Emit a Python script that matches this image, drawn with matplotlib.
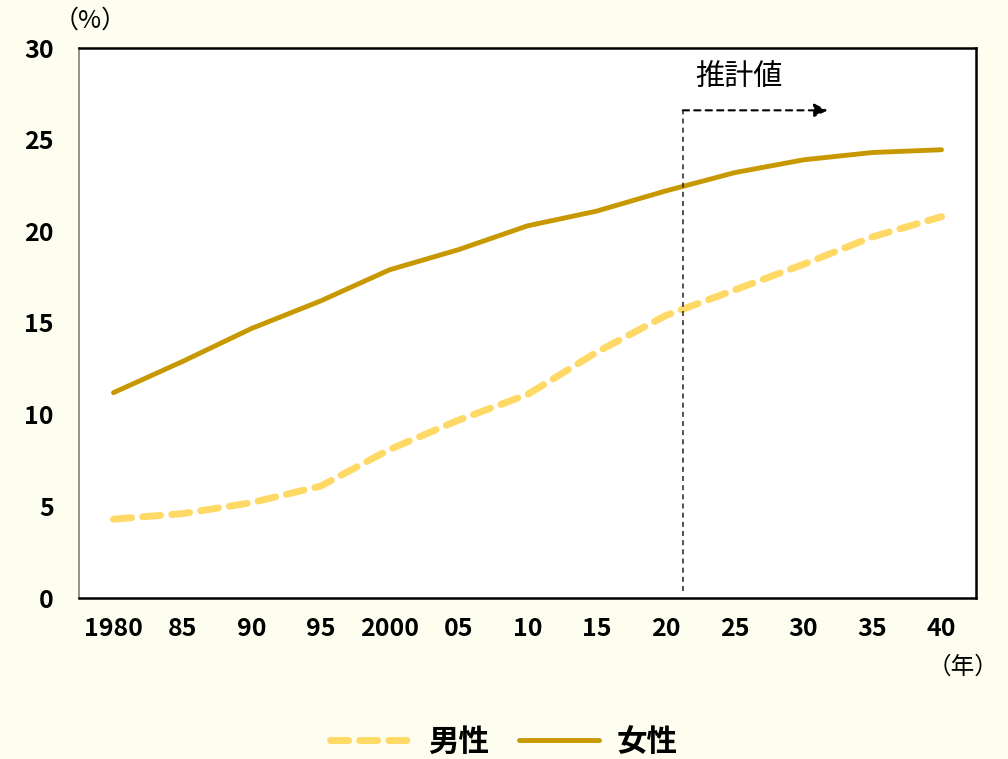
import matplotlib
matplotlib.use("Agg")
import matplotlib.pyplot as plt

plt.rcParams['font.family'] = ['Noto Sans CJK JP', 'DejaVu Sans']

# Data
years = ["1980", "85", "90", "95", "2000", "05", "10", "15", "20", "25", "30", "35", "40"]
male = [4.3, 4.6, 5.2, 6.1, 8.1, 9.7, 11.1, 13.4, 15.4, 16.8, 18.2, 19.7, 20.8]
female = [11.2, 12.9, 14.7, 16.2, 17.9, 19.0, 20.3, 21.1, 22.2, 23.2, 23.9, 24.3, 24.45]
estimate_start = 8.25  # boundary of projected values (position on the year axis)

bg = "#FEFEF0"
male_color = "#FFD966"
female_color = "#C89800"

fig = plt.figure(figsize=(10.08, 7.59), dpi=100, facecolor=bg)
ax = fig.add_axes([79 / 1008, 1 - 598 / 759, 897 / 1008, 550 / 759])
ax.set_facecolor("white")

x = list(range(len(years)))
ax.plot(x, male, color=male_color, lw=5, ls=(0, (2.6, 1.6)), dash_capstyle="round",
        solid_capstyle="round", label="男性")
ax.plot(x, female, color=female_color, lw=3.5, solid_capstyle="round", label="女性")

ax.set_xlim(-0.5, len(years) - 0.5)
ax.set_ylim(0, 30)
ax.set_yticks(range(0, 31, 5))
ax.set_xticks(x)
ax.set_xticklabels(years)
ax.tick_params(length=0, labelsize=18)
ax.tick_params(axis="x", pad=14)
ax.tick_params(axis="y", pad=18)
for lab in ax.get_xticklabels() + ax.get_yticklabels():
    lab.set_fontweight("bold")

for s in ax.spines.values():
    s.set_color("black")
    s.set_linewidth(1.8)
ax.spines["left"].set_color("#808080")
ax.spines["left"].set_linewidth(1.2)

# Projection marker
ax.plot([estimate_start, estimate_start], [0.4, 26.6], color="#333333", lw=1.2,
        ls=(0, (3, 2.5)))
ax.annotate("", xy=(estimate_start + 2.1, 26.6), xytext=(estimate_start, 26.6),
            arrowprops=dict(arrowstyle="-|>", color="black", lw=1.5,
                            linestyle=(0, (3, 2.5)), mutation_scale=20,
                            shrinkA=0, shrinkB=0))
ax.text(estimate_start + 0.18, 27.6, "推計値", fontsize=21, ha="left", va="bottom")

fig.text(90 / 1008, 1 - 21 / 759, "（%）", fontsize=18, ha="center", va="center")
fig.text(963 / 1008, 1 - 667 / 759, "（年）", fontsize=17, ha="center", va="center")

leg = fig.legend(loc="center", bbox_to_anchor=(0.5, 1 - 742 / 759), ncol=2, frameon=False,
                 handlelength=2.6, columnspacing=1.0, handletextpad=0.6,
                 prop={"weight": "bold", "size": 22})

fig.savefig("out.png", dpi=100, facecolor=bg)
